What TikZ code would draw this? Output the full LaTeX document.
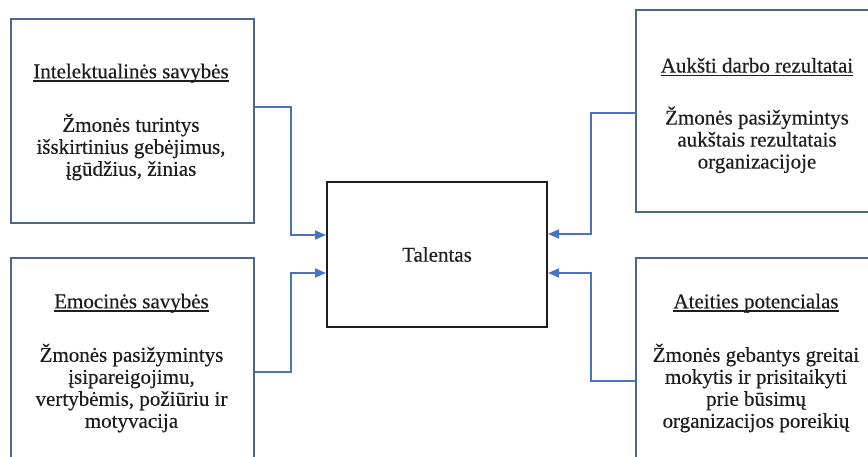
\documentclass[tikz,border=0pt]{standalone}
\usepackage{fontspec}
\setmainfont{Liberation Serif}[FakeBold=0.4]
\usetikzlibrary{arrows.meta}
\definecolor{boxline}{HTML}{506688}
\definecolor{linkblue}{HTML}{4A74C0}
\definecolor{inkgray}{HTML}{1E1E1E}
% underlined heading with a rule at a fixed depth below the baseline
\newcommand\headline[1]{\setbox0\hbox{#1}\rlap{\rule[-3.6pt]{\wd0}{1.4pt}}\box0}

\begin{document}
\begin{tikzpicture}[x=1pt,y=-1pt,
  framebox/.style={draw=boxline,line width=1.8pt,rectangle,inner sep=0pt},
  corebox/.style={draw=inkgray,line width=2pt,rectangle,inner sep=0pt},
  textblock/.style={align=center,font=\fontsize{21}{22}\selectfont,text=inkgray,inner sep=0pt},
  link/.style={draw=linkblue,line width=1.8pt,line join=miter,-{Triangle[length=11pt,width=9pt]}}]
\useasboundingbox (0,0) rectangle (868,456);
\clip (0,0) rectangle (868,456);

% frames
\node[framebox,minimum width=243pt,minimum height=204pt] (tlbox) at (132.5,121) {};
\node[framebox,minimum width=243pt,minimum height=206pt] (blbox) at (132.5,361) {};
\node[framebox,minimum width=242pt,minimum height=202pt] (trbox) at (757,111) {};
\node[framebox,minimum width=242pt,minimum height=216pt] (brbox) at (757,366) {};
\node[corebox,minimum width=220pt,minimum height=145pt] (core) at (437,254.5) {};

% texts
\node[textblock] (tltext) at (131,122) {\headline{Intelektualinės savybės}\\[30pt]
  Žmonės turintys\\ išskirtinius gebėjimus,\\ įgūdžius, žinias};
\node[textblock] (bltext) at (131.5,363) {\headline{Emocinės savybės}\\[30pt]
  Žmonės pasižymintys\\ įsipareigojimu,\\ vertybėmis, požiūriu ir\\ motyvacija};
\node[textblock] (trtext) at (757,115.5) {\headline{Aukšti darbo rezultatai}\\[30pt]
  Žmonės pasižymintys\\ aukštais rezultatais\\ organizacijoje};
\node[textblock] (brtext) at (756,363) {\headline{Ateities potencialas}\\[30pt]
  Žmonės gebantys greitai\\ mokytis ir prisitaikyti\\ prie būsimų\\ organizacijos poreikių};
\node[textblock] (coretext) at (core.center) {Talentas};

% ports on the frames and on the central box
\coordinate (tlout) at (tlbox.east |- 0,107);
\coordinate (blout) at (blbox.east |- 0,372);
\coordinate (trout) at (trbox.west |- 0,113);
\coordinate (brout) at (brbox.west |- 0,381);
\coordinate (tlin) at (core.west |- 0,235);
\coordinate (blin) at (core.west |- 0,273);
\coordinate (trin) at (core.east |- 0,234);
\coordinate (brin) at (core.east |- 0,273);

% connectors
\draw[link] (tlout) -- ++(36,0) |- (tlin);
\draw[link] (blout) -- ++(36,0) |- (blin);
\draw[link] (trout) -- ++(-44,0) |- (trin);
\draw[link] (brout) -- ++(-44,0) |- (brin);
\end{tikzpicture}
\end{document}
